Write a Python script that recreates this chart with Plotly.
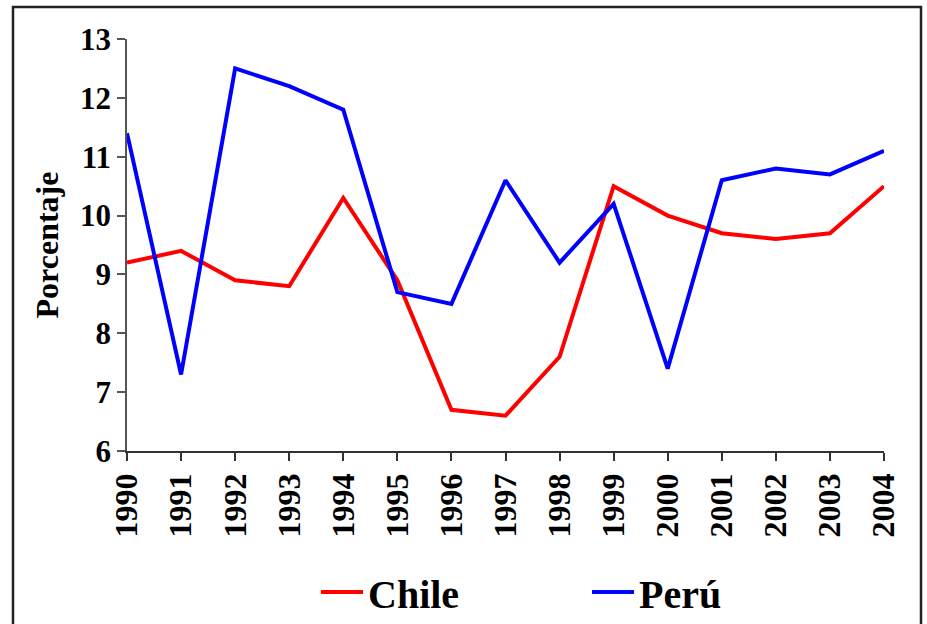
import plotly.graph_objects as go

years = [1990, 1991, 1992, 1993, 1994, 1995, 1996, 1997, 1998, 1999, 2000, 2001, 2002, 2003, 2004]
chile = [9.2, 9.4, 8.9, 8.8, 10.3, 8.9, 6.7, 6.6, 7.6, 10.5, 10.0, 9.7, 9.6, 9.7, 10.5]
peru = [11.4, 7.3, 12.5, 12.2, 11.8, 8.7, 8.5, 10.6, 9.2, 10.2, 7.4, 10.6, 10.8, 10.7, 11.1]
y_ticks = [6, 7, 8, 9, 10, 11, 12, 13]

FONT = "Liberation Serif"

fig = go.Figure()
fig.add_trace(go.Scatter(x=years, y=chile, mode="lines", name="Chile",
                         line=dict(color="#FF0000", width=4)))
fig.add_trace(go.Scatter(x=years, y=peru, mode="lines", name="Perú",
                         line=dict(color="#0000FF", width=4)))

L, R, T, B = 127, 43, 39, 173
W, H = 927, 624
pw = W - L - R
ph = H - T - B

fig.update_layout(
    width=W, height=H,
    margin=dict(l=L, r=R, t=T, b=B, pad=0, autoexpand=False),
    paper_bgcolor="white", plot_bgcolor="white",
    font=dict(family=FONT, color="black"),
    showlegend=True,
    legend=dict(orientation="h", x=(316 - L) / pw, xanchor="left",
                y=(451 - 592) / ph, yanchor="middle",
                font=dict(family=FONT, size=40, color="black", weight="bold"),
                itemwidth=42,
                entrywidth=214, entrywidthmode="pixels", bgcolor="rgba(0,0,0,0)"),
    xaxis=dict(range=[1990, 2004], tickmode="array", tickvals=years,
               ticktext=[str(y) for y in years], tickangle=-90,
               showline=True, linecolor="#333", linewidth=1.5,
               ticks="outside", ticklen=8, tickcolor="#333", tickwidth=1.5,
               showgrid=False, zeroline=False, automargin=False,
               tickfont=dict(family=FONT, size=32, color="black", weight="bold")),
    yaxis=dict(range=[6, 13], tickmode="array", tickvals=y_ticks,
               showline=True, linecolor="#555", linewidth=1.5,
               ticks="outside", ticklen=8, tickcolor="#555", tickwidth=1.5,
               showgrid=False, zeroline=False, automargin=False,
               tickfont=dict(family=FONT, size=31, color="black", weight="bold"),
               title=dict(text="<b>Porcentaje</b>", font=dict(family=FONT, size=32, color="black"),
                          standoff=12)),
)

fig.add_shape(type="rect", xref="paper", yref="paper",
              x0=(13 - L) / pw, x1=(921 - L) / pw,
              y0=(451 - 640) / ph, y1=(451 - 7) / ph,
              line=dict(color="#222", width=2.5), fillcolor="rgba(0,0,0,0)", layer="above")

fig.write_html("out.html", config={"displayModeBar": False},
               post_script="document.body.style.margin='0';document.body.style.overflow='hidden';")
